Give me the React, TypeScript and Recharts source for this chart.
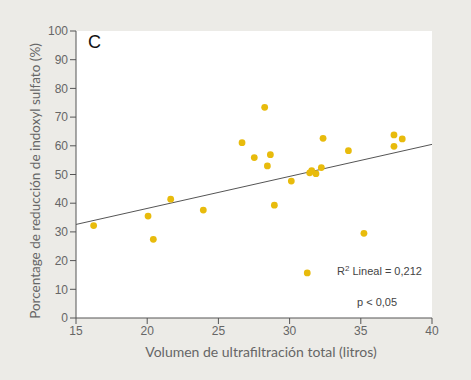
import React from 'react';
import {
  ScatterChart,
  Scatter,
  XAxis,
  YAxis,
  CartesianGrid,
  ReferenceLine,
  Label
} from 'recharts';

// Volumen de ultrafiltración (litros) y % de reducción de indoxyl sulfato
const ultrafiltracion = [16.24, 20.06, 20.43, 21.65, 23.94, 26.66, 27.52, 28.25, 28.44, 28.65, 28.93, 30.12, 31.24, 31.41, 31.55, 31.85, 32.23, 32.35, 34.13, 35.22, 37.33, 37.33, 37.91];
const reduccion = [32.2, 35.5, 27.4, 41.4, 37.6, 61.1, 55.9, 73.4, 53.0, 56.9, 39.3, 47.7, 15.7, 50.6, 51.3, 50.3, 52.4, 62.6, 58.3, 29.5, 63.8, 59.8, 62.4];

const xTicks = [15, 20, 25, 30, 35, 40];
const yTicks = [0, 10, 20, 30, 40, 50, 60, 70, 80, 90, 100];

// recta de regresión lineal (extremos del ajuste)
const ajusteX = [15, 40];
const ajusteY = [32.6, 60.5];

const puntos = ultrafiltracion.map((x, i) => ({ x, y: reduccion[i] }));
const recta = ajusteX.map((x, i) => ({ x, y: ajusteY[i] }));

const AXIS = '#555';
const TICK = { fill: '#666', fontSize: 12, fontFamily: 'Liberation Sans, Arial, sans-serif' };
const TITLE_FONT = 'Lato, sans-serif';

const Punto = (props: any) => (
  <circle cx={props.cx} cy={props.cy} r={3.4} fill="#E8BB0C" />
);

const App = () => {
  return (
    <div style={{ position: 'absolute', left: 0, top: 0, width: 471, height: 380, background: '#ECEBE7' }}>
      <ScatterChart
        width={471}
        height={380}
        margin={{ top: 31, right: 39, bottom: 12, left: 0 }}
      >
        <CartesianGrid fill="#fff" horizontal={false} vertical={false} stroke="none" />
        <XAxis
          type="number"
          dataKey="x"
          domain={[15, 40]}
          ticks={xTicks}
          height={50}
          stroke={AXIS}
          tick={TICK}
          tickSize={6}
          interval={0}
        >
          <Label
            content={({ viewBox }: any) => (
              <text
                x={viewBox.x + viewBox.width / 2 + 7}
                y={viewBox.y + 39}
                textAnchor="middle"
                fill="#666"
                fontSize={14}
                fontFamily={TITLE_FONT}
              >
                Volumen de ultrafiltración total (litros)
              </text>
            )}
          />
        </XAxis>
        <YAxis
          type="number"
          dataKey="y"
          domain={[0, 100]}
          ticks={yTicks}
          width={76}
          stroke={AXIS}
          tick={TICK}
          tickSize={6}
          interval={0}
        >
          <Label
            content={() => {
              const cx = 40;
              const cy = 181;
              return (
                <text
                  x={cx}
                  y={cy}
                  transform={`rotate(-90 ${cx} ${cy})`}
                  textAnchor="middle"
                  fill="#666"
                  fontSize={13.5}
                  fontFamily={TITLE_FONT}
                >
                  Porcentage de reducción de indoxyl sulfato (%)
                </text>
              );
            }}
          />
        </YAxis>
        <ReferenceLine
          segment={recta}
          stroke="#555"
          strokeWidth={1}
          ifOverflow="visible"
        />
        <Scatter data={puntos} shape={Punto} isAnimationActive={false} />
        <text x={88} y={48} fontSize={18} fontFamily="Liberation Sans, Arial, sans-serif" fill="#111">C</text>
        <text x={337} y={275} fontSize={11} fontFamily="Liberation Sans, Arial, sans-serif" fill="#444">
          R<tspan dy={-4} fontSize={8}>2</tspan>
          <tspan dy={4}> Lineal = 0,212</tspan>
        </text>
        <text x={357} y={306} fontSize={11} fontFamily="Liberation Sans, Arial, sans-serif" fill="#444">p &lt; 0,05</text>
      </ScatterChart>
    </div>
  );
};

export default App;
